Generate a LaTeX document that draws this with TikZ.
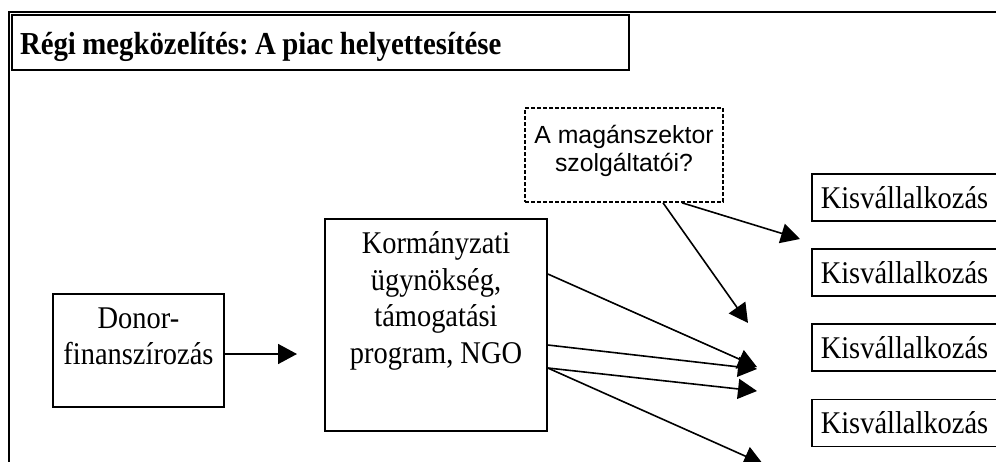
\documentclass[tikz,border=0pt]{standalone}
\usepackage{fontspec}
\setmainfont{Liberation Serif}[FakeStretch=0.9]
\newfontfamily\arialfont{Liberation Sans}
\usetikzlibrary{arrows.meta}
\frenchspacing

\tikzset{
  box/.style={draw, line width=0.8pt, inner sep=0pt},
  dashbox/.style={box, dash pattern=on 2pt off 1pt},
  txt/.style={align=center, inner sep=0pt, anchor=north, font=\fontsize{15.8}{18.35}\selectfont},
  kisbox/.style={draw, line width=0.8pt, anchor=west, minimum height=23.5pt, inner xsep=4.5pt, text width=95pt, align=left, font=\fontsize{15.8}{18}\selectfont},
  arr/.style={line width=0.8pt, -{Triangle[length=9.5pt,width=10pt]}}
}

\begin{document}
\begin{tikzpicture}[x=0.5pt, y=-0.5pt]

\useasboundingbox (0,0) rectangle (996,461);
\clip (0,0) rectangle (996,461);

\draw [line width=1pt] (9,12) rectangle (1020,480);
\node [box, line width=1pt, anchor=north west, text height=19.5pt, text depth=8pt, inner xsep=4pt, text width=300.5pt, align=left, font=\bfseries\fontsize{16}{18}\selectfont] (title) at (11,14) {\spaceskip=0.2em\relax Régi megközelítés: A piac helyettesítése};

\node [box, minimum width=85.5pt, minimum height=56.5pt] (donor) at (138.5,350.5) {};
\node [txt] (donortxt) at (138.5,307) {Donor-\\finanszírozás};

\node [box, minimum width=111pt, minimum height=106pt] (korm) at (436,325) {};
\node [txt] (kormtxt) at (436,231) {Kormányzati\\ügynökség,\\támogatási\\program, NGO};

\node [dashbox, minimum width=99pt, minimum height=47pt] (priv) at (624,155) {};
\node [align=center, inner sep=0pt, anchor=north, font=\arialfont\fontsize{12.4}{13.8}\selectfont] (privtxt) at (624,125) {A magánszektor\\szolgáltatói?};

\node [kisbox] (kis1) at (811,197.5) {Kisvállalkozás};
\node [kisbox] (kis2) at (811,272.5) {Kisvállalkozás};
\node [kisbox] (kis3) at (811,347.5) {Kisvállalkozás};
\node [kisbox] (kis4) at (811,423) {Kisvállalkozás};

\coordinate (t0) at (297,354);
\coordinate (t1) at (800,239);
\coordinate (t2) at (748,323);
\coordinate (t3) at (757,367);
\coordinate (t4) at (757,369);
\coordinate (t5) at (757,391);
\coordinate (t6) at (763,464);

\draw [arr] ([yshift=-1.75pt]donor.east) -- (t0);
\draw [arr] ([xshift=29pt]priv.south) -- (t1);
\draw [arr] ([xshift=19.5pt]priv.south) -- (t2);
\draw [arr] ([yshift=25.5pt]korm.east) -- (t3);
\draw [arr] ([yshift=-10pt]korm.east) -- (t4);
\draw [arr] ([yshift=-21.5pt]korm.east) -- (t5);
\draw [arr] ([yshift=-21.5pt]korm.east) -- (t6);

\end{tikzpicture}
\end{document}
